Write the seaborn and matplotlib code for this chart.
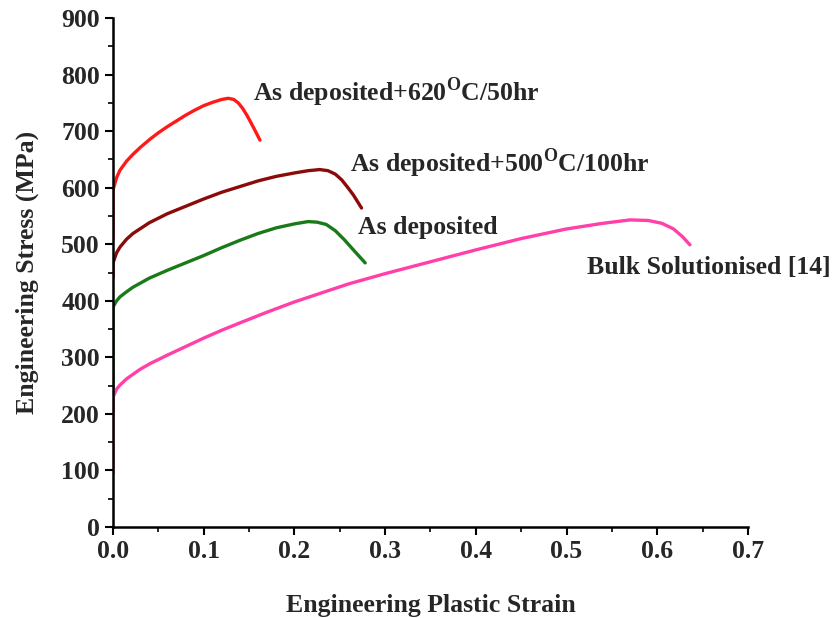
import numpy as np
import pandas as pd
import matplotlib
matplotlib.use("Agg")
import matplotlib.pyplot as plt
import seaborn as sns
from matplotlib.ticker import MultipleLocator

# stress-strain curves (strain, MPa)
red_x = [0.0, 0.0, 0.004, 0.0077, 0.015, 0.022, 0.030, 0.041, 0.050, 0.060, 0.070, 0.080, 0.090,
         0.100, 0.110, 0.120, 0.127, 0.133, 0.138, 0.143, 0.148, 0.155, 0.162]
red_y = [510, 596, 618, 631, 647, 659, 671, 686, 697, 708, 718, 728, 737,
         745, 751, 756, 758, 756, 750, 740, 727, 706, 684]

dark_x = [0.0, 0.0, 0.004, 0.0077, 0.015, 0.022, 0.040, 0.060, 0.080, 0.100, 0.120, 0.140, 0.160,
          0.180, 0.200, 0.215, 0.228, 0.237, 0.245, 0.252, 0.258, 0.265, 0.274]
dark_y = [440, 467, 485, 495, 509, 519, 538, 554, 567, 580, 592, 602, 612,
          620, 626, 630, 632, 630, 624, 614, 602, 587, 564]

green_x = [0.0, 0.0, 0.004, 0.0077, 0.015, 0.022, 0.040, 0.060, 0.080, 0.100, 0.120, 0.140, 0.160,
           0.180, 0.200, 0.215, 0.225, 0.235, 0.245, 0.255, 0.265, 0.278]
green_y = [200, 389, 400, 407, 416, 424, 440, 454, 467, 480, 494, 507, 519,
           529, 536, 540, 539, 535, 524, 508, 490, 467]

pink_x = [0.0, 0.0, 0.004, 0.0077, 0.015, 0.022, 0.030, 0.041, 0.060, 0.080, 0.100, 0.120, 0.140,
          0.170, 0.200, 0.230, 0.260, 0.300, 0.350, 0.400, 0.450, 0.500, 0.540, 0.570, 0.590,
          0.605, 0.618, 0.628, 0.636]
pink_y = [95, 230, 244, 251, 262, 270, 279, 289, 304, 319, 334, 348, 361,
          380, 398, 414, 430, 448, 469, 490, 510, 527, 537, 543, 542,
          537, 527, 513, 499]

names = ["As deposited+620$^{\\mathbf{O}}$C/50hr", "As deposited+500$^{\\mathbf{O}}$C/100hr",
         "As deposited", "Bulk Solutionised [14]"]
colors = ["#ff1a1a", "#8b0a0a", "#1a7a1a", "#ff40a8"]
label_x = [0.154, 0.261, 0.270, 0.523]
label_y = [769, 643, 529, 458]

sns.set_style("ticks")
plt.rcParams["font.family"] = ["Liberation Serif", "DejaVu Serif"]
plt.rcParams["font.weight"] = "bold"
plt.rcParams["mathtext.fontset"] = "custom"
plt.rcParams["mathtext.rm"] = "Liberation Serif:bold"
plt.rcParams["mathtext.bf"] = "Liberation Serif:bold"

fig = plt.figure(figsize=(8.39, 6.18), dpi=100)
ax = fig.add_axes([0.1347, 0.1472, 0.7568, 0.8237])

curves = [(red_x, red_y), (dark_x, dark_y), (green_x, green_y), (pink_x, pink_y)]
for (xs, ys), c in zip(curves, colors):
    df = pd.DataFrame({"strain": xs, "stress": ys})
    sns.lineplot(data=df, x="strain", y="stress", color=c, lw=2.4,
                 estimator=None, sort=False, ax=ax)

for name, lx, ly in zip(names, label_x, label_y):
    ax.text(lx, ly, name, fontsize=18.5, fontweight="bold", ha="left", va="center")

ax.set_xlim(0, 0.7)
ax.set_ylim(0, 900)
ax.xaxis.set_minor_locator(MultipleLocator(0.05))
ax.yaxis.set_major_locator(MultipleLocator(100))
ax.yaxis.set_minor_locator(MultipleLocator(50))
ax.set_xticks(np.arange(0, 0.71, 0.1))
ax.set_xticklabels([f"{v:.1f}" for v in np.arange(0, 0.71, 0.1)])

ax.tick_params(which="major", length=6, width=1.5, labelsize=18.5, direction="out", color="black")
ax.tick_params(which="minor", length=3.5, width=1.2, direction="out", color="black")
for lab in ax.get_xticklabels() + ax.get_yticklabels():
    lab.set_fontweight("bold")

sns.despine(ax=ax)
for side in ["left", "bottom"]:
    ax.spines[side].set_linewidth(1.8)
    ax.spines[side].set_color("black")

ax.set_xlabel("Engineering Plastic Strain", fontsize=18.5, fontweight="bold", labelpad=22)
ax.set_ylabel("Engineering Stress (MPa)", fontsize=18.5, fontweight="bold", labelpad=16)

fig.savefig("out.png", dpi=100)
